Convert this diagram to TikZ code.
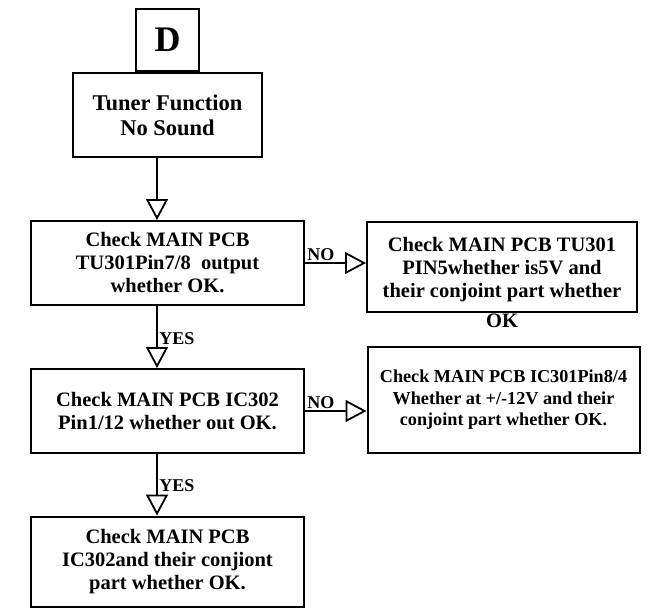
\documentclass[tikz,border=0pt]{standalone}
\usepackage{fontspec}
\setmainfont{Liberation Serif}
\usetikzlibrary{arrows.meta}
\begin{document}
\begin{tikzpicture}[x=1pt, y=-1pt,
        box/.style  = {draw, line width=2pt, align=center, inner sep=2pt,
                       font=\bfseries\fontsize{20.5}{23}\selectfont},
        flow/.style = {line width=1.8pt, -{Triangle[open, width=22pt, length=21pt]}},
        lbl/.style  = {font=\bfseries\fontsize{18}{20}\selectfont, inner sep=1.5pt}]
        \useasboundingbox (0,0) rectangle (659,608);
        \node[box, minimum width=189pt, minimum height=84pt,
              font=\bfseries\fontsize{22.5}{25}\selectfont] (tuner) at (167.5,115) {Tuner Function\\No Sound};
        \node[box, minimum width=63pt, minimum height=62pt, anchor=south,
              font=\bfseries\fontsize{36}{40}\selectfont] (start) at (tuner.north) {D};
        \node[box, minimum width=273pt, minimum height=84pt] (chk1) at (167.5,263) {Check MAIN PCB\\TU301Pin7/8~~output\\whether OK.};
        \node[box, minimum width=270pt, minimum height=90pt,
              label={[font=\bfseries\fontsize{20.5}{23}\selectfont, inner sep=1pt]below:OK}] (nofix1) at (502,267)
              {\rule{0pt}{20pt}Check MAIN PCB TU301\\PIN5whether is5V and\\their conjoint part whether};
        \node[box, minimum width=273pt, minimum height=84pt] (chk2) at (167.5,411) {Check MAIN PCB IC302\\Pin1/12 whether out OK.};
        \node[box, minimum width=272pt, minimum height=106pt,
              font=\bfseries\fontsize{18.2}{21.5}\selectfont] (nofix2) at (503.5,400)
              {Check MAIN PCB IC301Pin8/4\\Whether at +/-12V and their\\conjoint part whether OK.};
        \node[box, minimum width=273pt, minimum height=90pt] (chk3) at (167.5,561.5) {Check MAIN PCB\\IC302and their conjiont\\part whether OK.};
        \draw[flow] ([xshift=-10.5pt]tuner.south) -- ([xshift=-10.5pt]chk1.north);
        \draw[flow] ([xshift=-10.5pt]chk1.south) -- node[lbl, pos=0.52, anchor=west] {YES} ([xshift=-10.5pt]chk2.north);
        \draw[flow] ([xshift=-10.5pt]chk2.south) -- node[lbl, pos=0.51, anchor=west] {YES} ([xshift=-10.5pt]chk3.north);
        \draw[flow] (chk1.east) -- node[lbl, pos=0, anchor=south west] {NO} (chk1.east -| nofix1.west);
        \draw[flow] (chk2.east) -- node[lbl, pos=0, anchor=south west] {NO} (chk2.east -| nofix2.west);
      \end{tikzpicture}
\end{document}
